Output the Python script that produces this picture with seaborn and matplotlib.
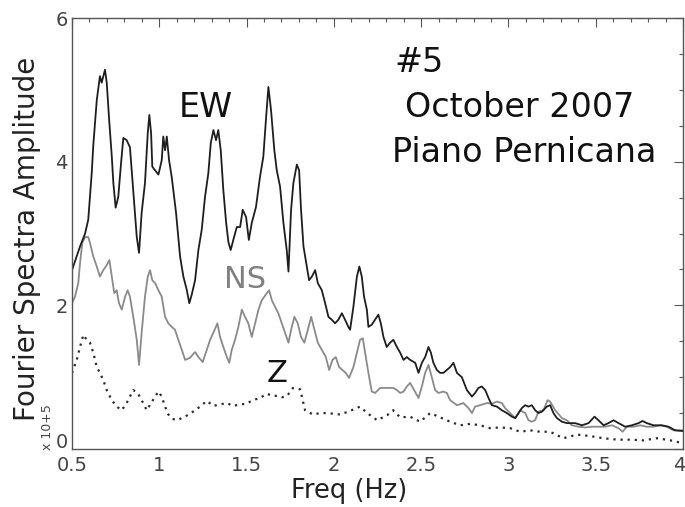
import matplotlib
matplotlib.use("Agg")
import matplotlib.pyplot as plt
from matplotlib.ticker import MultipleLocator, FuncFormatter
from matplotlib.transforms import ScaledTranslation
import pandas as pd
import seaborn as sns

# East-West component spectrum (amplitude in units of 1e5)
ew_freq = [0.500, 0.546, 0.575, 0.593, 0.613, 0.622, 0.642, 0.660, 0.670, 0.689,
           0.699, 0.714, 0.728, 0.737, 0.750, 0.765, 0.781, 0.794, 0.813, 0.832,
           0.851, 0.871, 0.884, 0.899, 0.918, 0.934, 0.943, 0.953, 0.960, 0.976,
           0.995, 1.014, 1.023, 1.033, 1.043, 1.056, 1.071, 1.096, 1.119, 1.138,
           1.157, 1.172, 1.186, 1.205, 1.224, 1.243, 1.262, 1.281, 1.295, 1.310,
           1.325, 1.338, 1.352, 1.367, 1.383, 1.396, 1.409, 1.424, 1.444, 1.463,
           1.478, 1.497, 1.513, 1.530, 1.554, 1.577, 1.596, 1.612, 1.625, 1.640,
           1.659, 1.673, 1.692, 1.711, 1.730, 1.740, 1.755, 1.768, 1.788, 1.801,
           1.812, 1.826, 1.845, 1.858, 1.874, 1.893, 1.908, 1.931, 1.950, 1.969,
           1.988, 2.007, 2.026, 2.046, 2.064, 2.083, 2.093, 2.112, 2.132, 2.146,
           2.160, 2.173, 2.189, 2.198, 2.217, 2.236, 2.255, 2.269, 2.284, 2.303,
           2.322, 2.341, 2.361, 2.380, 2.399, 2.418, 2.437, 2.466, 2.485, 2.504,
           2.523, 2.542, 2.556, 2.570, 2.590, 2.609, 2.628, 2.647, 2.666, 2.685,
           2.705, 2.733, 2.762, 2.791, 2.809, 2.828, 2.848, 2.867, 2.886, 2.905,
           2.934, 2.962, 2.991, 3.020, 3.039, 3.058, 3.077, 3.096, 3.115, 3.134,
           3.153, 3.172, 3.192, 3.220, 3.239, 3.258, 3.278, 3.306, 3.335, 3.383,
           3.421, 3.459, 3.493, 3.516, 3.545, 3.573, 3.602, 3.631, 3.669, 3.707,
           3.745, 3.768, 3.793, 3.831, 3.879, 3.917, 3.955, 4.000]
ew_amp = [2.49, 2.82, 3.00, 3.19, 3.84, 4.23, 4.86, 5.19, 5.10, 5.28,
          5.10, 4.54, 4.07, 3.70, 3.36, 3.51, 3.98, 4.33, 4.30, 4.20,
          3.60, 2.95, 2.73, 3.29, 3.70, 4.40, 4.65, 4.40, 3.93, 3.88,
          3.82, 4.02, 4.35, 4.16, 4.35, 4.02, 3.79, 3.29, 2.68, 2.40,
          2.22, 2.03, 2.15, 2.35, 2.77, 3.05, 3.51, 3.84, 4.26, 4.44,
          4.30, 4.44, 4.16, 3.60, 3.15, 2.88, 2.77, 2.91, 3.09, 3.09,
          3.33, 3.23, 2.91, 3.15, 3.37, 3.79, 4.07, 4.62, 5.04, 4.72,
          4.16, 3.88, 3.65, 3.15, 2.77, 2.47, 3.33, 3.70, 3.96, 3.88,
          3.33, 2.82, 2.54, 2.35, 2.40, 2.49, 2.31, 2.21, 2.03, 1.84,
          1.80, 1.75, 1.80, 1.89, 1.80, 1.70, 1.66, 1.98, 2.40, 2.54,
          2.40, 2.12, 1.94, 1.70, 1.73, 1.80, 1.87, 1.75, 1.56, 1.42,
          1.48, 1.52, 1.42, 1.34, 1.24, 1.28, 1.24, 1.20, 1.06, 1.20,
          1.28, 1.42, 1.34, 1.20, 1.10, 1.06, 1.06, 1.10, 1.14, 1.20,
          1.06, 1.00, 0.82, 0.73, 0.78, 0.85, 0.87, 0.82, 0.71, 0.61,
          0.59, 0.54, 0.50, 0.45, 0.43, 0.50, 0.57, 0.61, 0.59, 0.61,
          0.54, 0.50, 0.52, 0.59, 0.61, 0.50, 0.43, 0.38, 0.36, 0.36,
          0.33, 0.36, 0.45, 0.40, 0.33, 0.36, 0.40, 0.36, 0.31, 0.33,
          0.36, 0.39, 0.36, 0.33, 0.33, 0.31, 0.26, 0.25]

# North-South component spectrum
ns_freq = [0.500, 0.517, 0.536, 0.546, 0.559, 0.575, 0.593, 0.603, 0.622, 0.642,
           0.660, 0.679, 0.699, 0.714, 0.728, 0.742, 0.756, 0.769, 0.785, 0.804,
           0.819, 0.832, 0.851, 0.871, 0.884, 0.899, 0.918, 0.934, 0.947, 0.960,
           0.976, 0.995, 1.014, 1.033, 1.052, 1.071, 1.090, 1.109, 1.129, 1.148,
           1.176, 1.205, 1.224, 1.249, 1.272, 1.291, 1.310, 1.333, 1.348, 1.367,
           1.387, 1.401, 1.415, 1.434, 1.453, 1.473, 1.491, 1.510, 1.530, 1.549,
           1.568, 1.587, 1.616, 1.629, 1.645, 1.663, 1.682, 1.702, 1.721, 1.740,
           1.755, 1.774, 1.793, 1.812, 1.831, 1.851, 1.870, 1.889, 1.908, 1.931,
           1.954, 1.973, 1.992, 2.011, 2.030, 2.049, 2.068, 2.087, 2.112, 2.132,
           2.150, 2.166, 2.179, 2.198, 2.217, 2.236, 2.265, 2.303, 2.341, 2.361,
           2.380, 2.399, 2.418, 2.437, 2.460, 2.485, 2.504, 2.523, 2.542, 2.561,
           2.580, 2.599, 2.628, 2.647, 2.666, 2.705, 2.742, 2.771, 2.791, 2.809,
           2.838, 2.877, 2.905, 2.934, 2.962, 2.981, 3.010, 3.039, 3.067, 3.096,
           3.115, 3.134, 3.153, 3.172, 3.201, 3.224, 3.239, 3.268, 3.306, 3.335,
           3.364, 3.402, 3.440, 3.478, 3.516, 3.554, 3.593, 3.631, 3.654, 3.679,
           3.717, 3.755, 3.793, 3.831, 3.870, 3.908, 3.946, 4.000]
ns_amp = [2.03, 2.12, 2.31, 2.59, 2.87, 2.95, 2.95, 2.87, 2.68, 2.54,
          2.40, 2.49, 2.56, 2.63, 2.40, 2.17, 2.21, 2.03, 1.94, 2.12,
          2.21, 2.12, 1.84, 1.52, 1.17, 1.62, 2.12, 2.40, 2.49, 2.35,
          2.31, 2.21, 2.12, 1.84, 1.75, 1.70, 1.66, 1.52, 1.38, 1.24,
          1.27, 1.35, 1.28, 1.21, 1.38, 1.52, 1.62, 1.75, 1.56, 1.42,
          1.28, 1.20, 1.38, 1.52, 1.70, 1.94, 1.84, 1.75, 1.56, 1.75,
          1.94, 2.07, 2.17, 2.21, 2.07, 1.98, 1.89, 1.75, 1.62, 1.48,
          1.66, 1.84, 1.75, 1.56, 1.48, 1.66, 1.84, 1.66, 1.48, 1.38,
          1.28, 1.10, 1.24, 1.28, 1.14, 1.10, 1.06, 0.99, 1.14, 1.34,
          1.52, 1.54, 1.34, 1.06, 0.80, 0.78, 0.85, 0.85, 0.85, 0.82,
          0.78, 0.80, 0.87, 0.92, 0.82, 0.71, 0.87, 1.06, 1.17, 1.00,
          0.82, 0.78, 0.80, 0.78, 0.68, 0.61, 0.64, 0.57, 0.50, 0.59,
          0.61, 0.64, 0.63, 0.66, 0.64, 0.57, 0.50, 0.43, 0.54, 0.50,
          0.40, 0.38, 0.40, 0.52, 0.54, 0.68, 0.66, 0.54, 0.43, 0.40,
          0.33, 0.31, 0.30, 0.31, 0.31, 0.31, 0.33, 0.29, 0.24, 0.31,
          0.31, 0.33, 0.31, 0.31, 0.33, 0.31, 0.26, 0.26]

# Vertical component spectrum
z_freq = [0.500, 0.527, 0.546, 0.565, 0.584, 0.603, 0.622, 0.642, 0.660, 0.679,
          0.699, 0.728, 0.756, 0.785, 0.813, 0.832, 0.851, 0.876, 0.899, 0.928,
          0.953, 0.976, 0.995, 1.014, 1.033, 1.052, 1.076, 1.100, 1.148, 1.193,
          1.234, 1.272, 1.310, 1.348, 1.387, 1.423, 1.463, 1.497, 1.537, 1.577,
          1.617, 1.646, 1.675, 1.703, 1.732, 1.766, 1.807, 1.835, 1.881, 1.921,
          1.961, 2.001, 2.036, 2.082, 2.122, 2.150, 2.191, 2.248, 2.305, 2.340,
          2.380, 2.437, 2.494, 2.552, 2.609, 2.666, 2.723, 2.781, 2.838, 2.895,
          2.953, 3.010, 3.067, 3.125, 3.181, 3.239, 3.314, 3.394, 3.468, 3.543,
          3.623, 3.698, 3.772, 3.852, 3.928, 4.000]
z_amp = [1.06, 1.24, 1.42, 1.59, 1.52, 1.48, 1.34, 1.14, 1.06, 0.96,
         0.82, 0.68, 0.59, 0.54, 0.64, 0.73, 0.82, 0.78, 0.68, 0.54,
         0.64, 0.73, 0.80, 0.73, 0.59, 0.48, 0.42, 0.40, 0.45, 0.52,
         0.59, 0.67, 0.60, 0.62, 0.64, 0.60, 0.62, 0.63, 0.68, 0.71,
         0.77, 0.74, 0.74, 0.72, 0.74, 0.85, 0.83, 0.54, 0.48, 0.50,
         0.50, 0.49, 0.48, 0.52, 0.56, 0.59, 0.50, 0.40, 0.47, 0.54,
         0.44, 0.45, 0.38, 0.50, 0.44, 0.38, 0.33, 0.35, 0.33, 0.29,
         0.30, 0.29, 0.24, 0.26, 0.24, 0.24, 0.15, 0.20, 0.18, 0.15,
         0.13, 0.13, 0.12, 0.15, 0.12, 0.08]

sns.set_style("white")
plt.rcParams["font.family"] = ["DejaVu Sans"]

W, H = 685, 507
fig = plt.figure(figsize=(W / 100, H / 100), dpi=100)
ax = fig.add_axes([72 / W, 1 - 449 / H, 611 / W, 431 / H])

ew = pd.DataFrame({"freq": ew_freq, "amp": ew_amp})
ns = pd.DataFrame({"freq": ns_freq, "amp": ns_amp})
zz = pd.DataFrame({"freq": z_freq, "amp": z_amp})

sns.lineplot(data=ns, x="freq", y="amp", ax=ax, color="#8a8a8a", lw=1.3,
             estimator=None, sort=False)
sns.lineplot(data=ew, x="freq", y="amp", ax=ax, color="#1e1e1e", lw=1.3,
             estimator=None, sort=False)
sns.lineplot(data=zz, x="freq", y="amp", ax=ax, color="#2a2a2a", lw=1.6,
             linestyle=(0, (1, 2.2)), estimator=None, sort=False)

ax.set_xlim(0.5, 4.0)
ax.set_ylim(0, 6)
ax.xaxis.set_major_locator(MultipleLocator(0.5))
ax.xaxis.set_minor_locator(MultipleLocator(0.1))
ax.yaxis.set_major_locator(MultipleLocator(2))
ax.yaxis.set_minor_locator(MultipleLocator(0.5))
ax.xaxis.set_major_formatter(FuncFormatter(lambda v, p: f"{v:g}"))
ax.yaxis.set_major_formatter(FuncFormatter(lambda v, p: f"{v:g}"))

ax.tick_params(which="both", direction="in", top=True, right=True,
               color="#555555", width=0.8)
ax.tick_params(which="major", length=6.5)
ax.tick_params(which="minor", length=3.2)
ax.tick_params(axis="x", which="major", pad=5, labelsize=14, labelcolor="#444444")
ax.tick_params(axis="y", which="major", pad=3, labelsize=14, labelcolor="#444444")
for s in ax.spines.values():
    s.set_color("#555555")
    s.set_linewidth(1.0)

ax.set_xlabel("Freq (Hz)", fontsize=18.5, color="#222222")
ax.set_ylabel("Fourier Spectra Amplitude", fontsize=20, color="#222222")
ax.xaxis.set_label_coords((349 - 72) / 611, (449 - 491) / 431)
ax.xaxis.label.set_va("center")
ax.yaxis.set_label_coords((27 - 72) / 611, (449 - 239) / 431)
ax.yaxis.label.set_va("center")

# lift the zero label of the amplitude axis above the frequency labels,
# and keep the last frequency label inside the figure
fig.canvas.draw()
for t in ax.get_yticklabels():
    if t.get_text() == "0":
        t.set_transform(t.get_transform()
                        + ScaledTranslation(0, 6 / 72, fig.dpi_scale_trans))
for t in ax.get_xticklabels():
    if t.get_text() == "4":
        t.set_transform(t.get_transform()
                        + ScaledTranslation(-3 / 72, 0, fig.dpi_scale_trans))

# scale factor next to the zero of the amplitude axis
ax.text(-0.04, 0.05, "x 10+5", transform=ax.transAxes, rotation=90,
        fontsize=9, color="#444444", ha="center", va="center")

# component labels
ax.text(1.268, 4.62, "EW", fontsize=24, color="#111111", ha="center", va="baseline")
ax.text(1.491, 2.24, "NS", fontsize=22, color="#808080", ha="center", va="baseline")
ax.text(1.675, 0.93, "Z", fontsize=22, color="#111111", ha="center", va="baseline")

# event caption
ax.text(2.345, 5.25, "#5", fontsize=24, color="#111111", ha="left", va="baseline")
ax.text(2.405, 4.62, "October 2007", fontsize=24, color="#111111", ha="left", va="baseline")
ax.text(2.335, 4.00, "Piano Pernicana", fontsize=24, color="#111111", ha="left", va="baseline")

fig.savefig("out.png", dpi=100)
